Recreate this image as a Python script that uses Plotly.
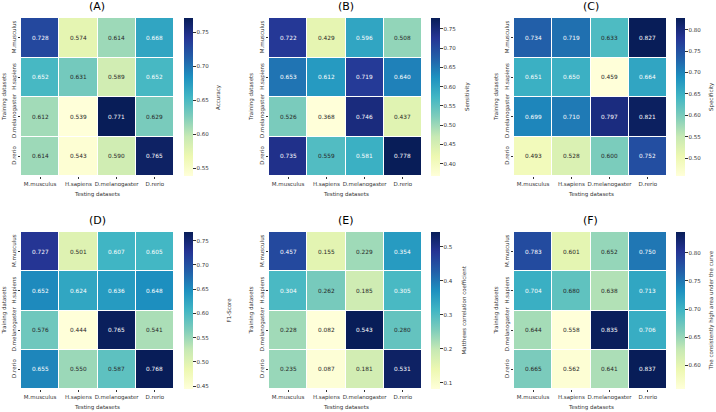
import plotly.graph_objects as go

species = ["M.musculus", "H.sapiens", "D.melanogaster", "D.rerio"]

accuracy = [[0.728, 0.574, 0.614, 0.668],
            [0.652, 0.631, 0.589, 0.652],
            [0.612, 0.539, 0.771, 0.629],
            [0.614, 0.543, 0.590, 0.765]]
sensitivity = [[0.722, 0.429, 0.596, 0.508],
               [0.653, 0.612, 0.719, 0.640],
               [0.526, 0.368, 0.746, 0.437],
               [0.735, 0.559, 0.581, 0.778]]
specificity = [[0.734, 0.719, 0.633, 0.827],
               [0.651, 0.650, 0.459, 0.664],
               [0.699, 0.710, 0.797, 0.821],
               [0.493, 0.528, 0.600, 0.752]]
f1_score = [[0.727, 0.501, 0.607, 0.605],
            [0.652, 0.624, 0.636, 0.648],
            [0.576, 0.444, 0.765, 0.541],
            [0.655, 0.550, 0.587, 0.768]]
mcc = [[0.457, 0.155, 0.229, 0.354],
       [0.304, 0.262, 0.185, 0.305],
       [0.228, 0.082, 0.543, 0.280],
       [0.235, 0.087, 0.181, 0.531]]
auc = [[0.783, 0.601, 0.652, 0.750],
       [0.704, 0.680, 0.638, 0.713],
       [0.644, 0.558, 0.835, 0.706],
       [0.665, 0.562, 0.641, 0.837]]

panel_titles = ["(A)", "(B)", "(C)", "(D)", "(E)", "(F)"]
cbar_titles = ["Accuracy", "Sensitivity", "Specificity", "F1-Score",
               "Matthews correlation coefficient",
               "The consistently high area under the curve"]
cbar_dticks = [0.05, 0.05, 0.05, 0.05, 0.1, 0.05]
cbar_formats = [".2f", ".2f", ".2f", ".2f", ".1f", ".2f"]
datasets = [accuracy, sensitivity, specificity, f1_score, mcc, auc]

W, H = 716, 412
YlGnBu = [[0.0, "#ffffd9"], [0.125, "#edf8b1"], [0.25, "#c7e9b4"], [0.375, "#7fcdbb"],
          [0.5, "#41b6c4"], [0.625, "#1d91c0"], [0.75, "#225ea8"], [0.875, "#253494"],
          [1.0, "#081d58"]]

# pixel layout
cols_px = [(21, 174, 184), (269, 422, 431), (514, 667, 676)]
cbt_px = [[218, 467, 711], [228, 463, 711]]
rows_px = [(18, 176), (232, 389)]
title_y_px = [7, 220]
ytitle_px = [4, 251, 496]

FONT = "DejaVu Sans"
fig = go.Figure()
annotations = []
layout_axes = {}


def paper_note(xp, yp, text, size, angle=0, color="#333"):
    return dict(x=xp / W, y=1 - yp / H, xref="paper", yref="paper", text=text,
                showarrow=False, textangle=angle, xanchor="center", yanchor="middle",
                font=dict(size=size, family=FONT, color=color))


for i, data in enumerate(datasets):
    r, c = divmod(i, 3)
    x0, x1, cbx = cols_px[c]
    y0, y1 = rows_px[r]
    n = i + 1
    xa = "x" if n == 1 else f"x{n}"
    ya = "y" if n == 1 else f"y{n}"
    flat = [v for row in data for v in row]
    zmin, zmax = min(flat), max(flat)
    fig.add_trace(go.Heatmap(
        z=data, x=species, y=species, xaxis=xa, yaxis=ya,
        colorscale=YlGnBu, zmin=zmin, zmax=zmax, xgap=1, ygap=1,
        hoverinfo="skip",
        colorbar=dict(x=cbx / W, xanchor="left", xpad=0, ypad=0,
                      y=1 - (y0 + y1) / 2 / H, yanchor="middle",
                      len=(y1 - y0) / H, thickness=9, outlinewidth=0,
                      ticks="outside", ticklen=3, tickwidth=0.6, tickcolor="#333",
                      dtick=cbar_dticks[i], tick0=0, tickformat=cbar_formats[i],
                      tickfont=dict(size=5.5, family=FONT, color="#333")),
    ))
    for ri, row in enumerate(data):
        for ci, v in enumerate(row):
            frac = (v - zmin) / (zmax - zmin)
            annotations.append(dict(
                x=species[ci], y=species[ri], xref=xa, yref=ya, text=f"{v:.3f}",
                showarrow=False,
                font=dict(size=5.8, family=FONT,
                          color="white" if frac > 0.48 else "#262626")))
    annotations.append(paper_note((x0 + x1) / 2, title_y_px[r], panel_titles[i], 11,
                                  color="black"))
    annotations.append(paper_note((x0 + x1) / 2, y1 + 18, "Testing datasets", 5.5))
    annotations.append(paper_note(ytitle_px[c], (y0 + y1) / 2, "Training datasets", 5.5,
                                  angle=-90))
    annotations.append(paper_note(cbt_px[r][c], (y0 + y1) / 2, cbar_titles[i], 5.5,
                                  angle=-90))
    xkey = "xaxis" if n == 1 else f"xaxis{n}"
    ykey = "yaxis" if n == 1 else f"yaxis{n}"
    layout_axes[xkey] = dict(domain=[x0 / W, x1 / W], anchor=ya, showgrid=False,
                             zeroline=False, showline=False, ticks="outside", ticklen=2,
                             tickwidth=0.6, tickcolor="#333", tickangle=0,
                             tickfont=dict(size=5.5, family=FONT, color="#333"))
    layout_axes[ykey] = dict(domain=[1 - y1 / H, 1 - y0 / H], anchor=xa, showgrid=False,
                             zeroline=False, showline=False, ticks="outside", ticklen=2,
                             tickwidth=0.6, tickcolor="#333", tickangle=-90,
                             autorange="reversed",
                             tickfont=dict(size=5.5, family=FONT, color="#333"))

fig.update_layout(width=W, height=H, margin=dict(l=0, r=0, t=0, b=0),
                  paper_bgcolor="white", plot_bgcolor="white",
                  annotations=annotations, showlegend=False, **layout_axes)
fig.write_html("out.html")
